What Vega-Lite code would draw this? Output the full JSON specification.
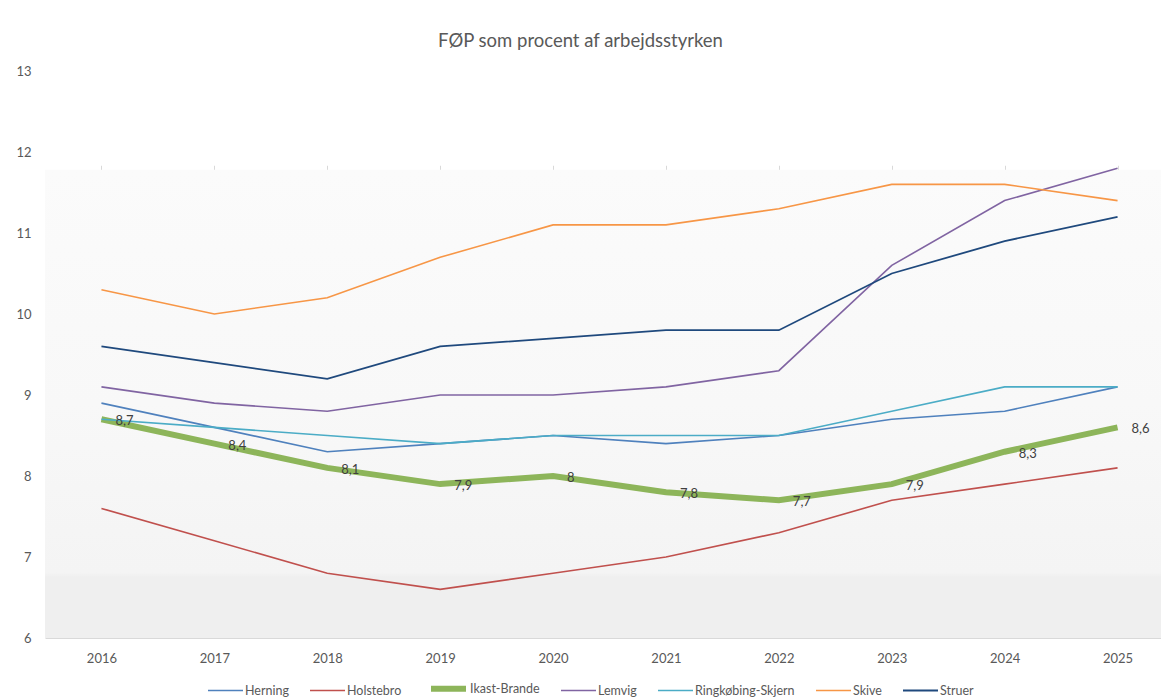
{
  "$schema": "https://vega.github.io/schema/vega-lite/v6.json",
  "width": 1129,
  "height": 567,
  "autosize": "none",
  "padding": {"left": 45, "top": 71, "right": 0, "bottom": 60},
  "background": "white",
  "title": {
    "text": "FØP som procent af arbejdsstyrken",
    "font": "Lato",
    "fontSize": 18.5,
    "fontWeight": "normal",
    "color": "#595959",
    "anchor": "middle",
    "dx": -29,
    "offset": 15
  },
  "config": {
    "font": "Lato",
    "view": {"stroke": null},
    "locale": {"number": {"decimal": ",", "thousands": ".", "grouping": [3], "currency": ["", " kr."]}}
  },
  "datasets": {
    "fop": [
      {"Kommune": "Herning", "År": "2016", "Procent": 8.9},
      {"Kommune": "Herning", "År": "2017", "Procent": 8.6},
      {"Kommune": "Herning", "År": "2018", "Procent": 8.3},
      {"Kommune": "Herning", "År": "2019", "Procent": 8.4},
      {"Kommune": "Herning", "År": "2020", "Procent": 8.5},
      {"Kommune": "Herning", "År": "2021", "Procent": 8.4},
      {"Kommune": "Herning", "År": "2022", "Procent": 8.5},
      {"Kommune": "Herning", "År": "2023", "Procent": 8.7},
      {"Kommune": "Herning", "År": "2024", "Procent": 8.8},
      {"Kommune": "Herning", "År": "2025", "Procent": 9.1},
      {"Kommune": "Holstebro", "År": "2016", "Procent": 7.6},
      {"Kommune": "Holstebro", "År": "2017", "Procent": 7.2},
      {"Kommune": "Holstebro", "År": "2018", "Procent": 6.8},
      {"Kommune": "Holstebro", "År": "2019", "Procent": 6.6},
      {"Kommune": "Holstebro", "År": "2020", "Procent": 6.8},
      {"Kommune": "Holstebro", "År": "2021", "Procent": 7.0},
      {"Kommune": "Holstebro", "År": "2022", "Procent": 7.3},
      {"Kommune": "Holstebro", "År": "2023", "Procent": 7.7},
      {"Kommune": "Holstebro", "År": "2024", "Procent": 7.9},
      {"Kommune": "Holstebro", "År": "2025", "Procent": 8.1},
      {"Kommune": "Ikast-Brande", "År": "2016", "Procent": 8.7},
      {"Kommune": "Ikast-Brande", "År": "2017", "Procent": 8.4},
      {"Kommune": "Ikast-Brande", "År": "2018", "Procent": 8.1},
      {"Kommune": "Ikast-Brande", "År": "2019", "Procent": 7.9},
      {"Kommune": "Ikast-Brande", "År": "2020", "Procent": 8.0},
      {"Kommune": "Ikast-Brande", "År": "2021", "Procent": 7.8},
      {"Kommune": "Ikast-Brande", "År": "2022", "Procent": 7.7},
      {"Kommune": "Ikast-Brande", "År": "2023", "Procent": 7.9},
      {"Kommune": "Ikast-Brande", "År": "2024", "Procent": 8.3},
      {"Kommune": "Ikast-Brande", "År": "2025", "Procent": 8.6},
      {"Kommune": "Lemvig", "År": "2016", "Procent": 9.1},
      {"Kommune": "Lemvig", "År": "2017", "Procent": 8.9},
      {"Kommune": "Lemvig", "År": "2018", "Procent": 8.8},
      {"Kommune": "Lemvig", "År": "2019", "Procent": 9.0},
      {"Kommune": "Lemvig", "År": "2020", "Procent": 9.0},
      {"Kommune": "Lemvig", "År": "2021", "Procent": 9.1},
      {"Kommune": "Lemvig", "År": "2022", "Procent": 9.3},
      {"Kommune": "Lemvig", "År": "2023", "Procent": 10.6},
      {"Kommune": "Lemvig", "År": "2024", "Procent": 11.4},
      {"Kommune": "Lemvig", "År": "2025", "Procent": 11.8},
      {"Kommune": "Ringkøbing-Skjern", "År": "2016", "Procent": 8.7},
      {"Kommune": "Ringkøbing-Skjern", "År": "2017", "Procent": 8.6},
      {"Kommune": "Ringkøbing-Skjern", "År": "2018", "Procent": 8.5},
      {"Kommune": "Ringkøbing-Skjern", "År": "2019", "Procent": 8.4},
      {"Kommune": "Ringkøbing-Skjern", "År": "2020", "Procent": 8.5},
      {"Kommune": "Ringkøbing-Skjern", "År": "2021", "Procent": 8.5},
      {"Kommune": "Ringkøbing-Skjern", "År": "2022", "Procent": 8.5},
      {"Kommune": "Ringkøbing-Skjern", "År": "2023", "Procent": 8.8},
      {"Kommune": "Ringkøbing-Skjern", "År": "2024", "Procent": 9.1},
      {"Kommune": "Ringkøbing-Skjern", "År": "2025", "Procent": 9.1},
      {"Kommune": "Skive", "År": "2016", "Procent": 10.3},
      {"Kommune": "Skive", "År": "2017", "Procent": 10.0},
      {"Kommune": "Skive", "År": "2018", "Procent": 10.2},
      {"Kommune": "Skive", "År": "2019", "Procent": 10.7},
      {"Kommune": "Skive", "År": "2020", "Procent": 11.1},
      {"Kommune": "Skive", "År": "2021", "Procent": 11.1},
      {"Kommune": "Skive", "År": "2022", "Procent": 11.3},
      {"Kommune": "Skive", "År": "2023", "Procent": 11.6},
      {"Kommune": "Skive", "År": "2024", "Procent": 11.6},
      {"Kommune": "Skive", "År": "2025", "Procent": 11.4},
      {"Kommune": "Struer", "År": "2016", "Procent": 9.6},
      {"Kommune": "Struer", "År": "2017", "Procent": 9.4},
      {"Kommune": "Struer", "År": "2018", "Procent": 9.2},
      {"Kommune": "Struer", "År": "2019", "Procent": 9.6},
      {"Kommune": "Struer", "År": "2020", "Procent": 9.7},
      {"Kommune": "Struer", "År": "2021", "Procent": 9.8},
      {"Kommune": "Struer", "År": "2022", "Procent": 9.8},
      {"Kommune": "Struer", "År": "2023", "Procent": 10.5},
      {"Kommune": "Struer", "År": "2024", "Procent": 10.9},
      {"Kommune": "Struer", "År": "2025", "Procent": 11.2}
    ]
  },
  "layer": [
    {
      "data": {"values": [{}]},
      "mark": {
        "type": "rect",
        "color": {
          "gradient": "linear",
          "x1": 0, "y1": 0, "x2": 0, "y2": 1,
          "stops": [
            {"offset": 0, "color": "#fbfbfb"},
            {"offset": 0.5, "color": "#f8f8f8"},
            {"offset": 0.86, "color": "#f4f4f4"},
            {"offset": 0.87, "color": "#efefef"},
            {"offset": 1, "color": "#efefef"}
          ]
        }
      },
      "encoding": {
        "y": {"datum": 6, "type": "quantitative", "scale": {"domain": [6, 13]}},
        "y2": {"datum": 11.78}
      }
    },
    {
      "data": {"values": [{}]},
      "mark": {"type": "rect", "color": "#ffffff", "zindex": 1},
      "encoding": {
        "y": {"datum": 11.83, "type": "quantitative"},
        "y2": {"datum": 13}
      }
    },
    {
      "data": {"name": "fop"},
      "mark": {"type": "line", "strokeCap": "butt", "strokeJoin": "miter"},
      "encoding": {
        "x": {
          "field": "År", "type": "ordinal",
          "scale": {"type": "point", "padding": 0.5},
          "axis": {
            "title": null, "labelAngle": 0, "ticks": false, "grid": true,
            "gridColor": "#d9d9d9", "gridWidth": 1, "domainColor": "#d9d9d9",
            "labelColor": "#595959", "labelFontSize": 13, "labelPadding": 14
          }
        },
        "y": {
          "field": "Procent", "type": "quantitative",
          "scale": {"domain": [6, 13]},
          "axis": {
            "title": null, "values": [6, 7, 8, 9, 10, 11, 12, 13], "labelOverlap": false, "format": "d",
            "domain": false, "ticks": false, "grid": false,
            "labelColor": "#595959", "labelFontSize": 13, "labelPadding": 14
          }
        },
        "color": {
          "field": "Kommune", "type": "nominal",
          "scale": {
            "domain": ["Herning", "Holstebro", "Ikast-Brande", "Lemvig", "Ringkøbing-Skjern", "Skive", "Struer"],
            "range": ["#4f81bd", "#c0504d", "#8db55a", "#8064a2", "#4bacc6", "#f79646", "#1f497d"]
          },
          "legend": {
            "title": null, "orient": "none", "direction": "horizontal", "legendX": 162, "legendY": 597,
            "symbolType": "stroke", "symbolSize": 1225,
            "labelColor": "#595959", "labelFontSize": 12.5, "columnPadding": 17,
            "labelOffset": 1
          }
        },
        "strokeWidth": {
          "field": "Kommune", "type": "nominal",
          "scale": {
            "type": "ordinal",
            "domain": ["Herning", "Holstebro", "Ikast-Brande", "Lemvig", "Ringkøbing-Skjern", "Skive", "Struer"],
            "range": [1.6, 1.6, 6, 1.6, 1.6, 1.6, 1.8]
          },
          "legend": {
            "title": null, "orient": "none", "direction": "horizontal", "legendX": 162, "legendY": 597,
            "symbolType": "stroke", "symbolSize": 1225,
            "labelColor": "#595959", "labelFontSize": 12.5, "columnPadding": 17,
            "labelOffset": 1
          }
        }
      }
    },
    {
      "data": {"name": "fop"},
      "transform": [{"filter": "datum.Kommune === 'Ikast-Brande'"}],
      "mark": {"type": "text", "align": "left", "baseline": "middle", "dx": 14, "dy": 2, "fontSize": 13, "color": "#404040"},
      "encoding": {
        "x": {"field": "År", "type": "ordinal", "scale": {"type": "point", "padding": 0.5}},
        "y": {"field": "Procent", "type": "quantitative"},
        "text": {"field": "Procent", "type": "quantitative", "format": ",.1~f"}
      }
    }
  ]
}
